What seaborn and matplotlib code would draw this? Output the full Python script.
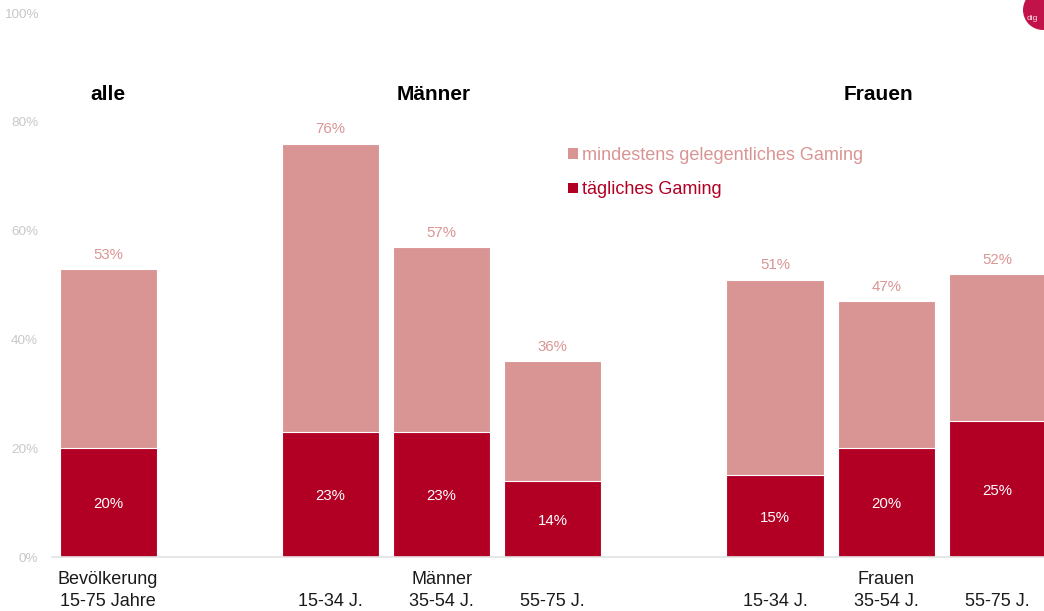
import matplotlib
matplotlib.use("Agg")
import matplotlib.pyplot as plt
import seaborn as sns
import pandas as pd
from matplotlib.patches import Circle, Patch

sns.set_theme(style="white")
plt.rcParams['font.family'] = ['Liberation Sans', 'DejaVu Sans']

# Data
tick_labels = ["Bevölkerung\n15-75 Jahre", "\n15-34 J.", "Männer\n35-54 J.", "\n55-75 J.",
               "\n15-34 J.", "Frauen\n35-54 J.", "\n55-75 J."]
slots = [0, 2, 3, 4, 6, 7, 8]
gelegentlich = [53, 76, 57, 36, 51, 47, 52]
taeglich = [20, 23, 23, 14, 15, 20, 25]
group_titles = ["alle", "Männer", "Frauen"]
group_pos = [0, 3, 7]
series_names = ["mindestens gelegentliches Gaming", "tägliches Gaming"]

PINK = "#d99594"
RED = "#b20024"
GRAY = "#c8c8c8"

df = pd.DataFrame({"slot": slots, "total": gelegentlich, "daily": taeglich})

fig = plt.figure(figsize=(10.44, 6.11), dpi=100)
ax = fig.add_axes([52/1044, 54/611, (1044-52)/1044, (557-13)/611])

w = 0.873
ax.bar(df["slot"], df["total"], width=w, color=PINK, edgecolor="white", linewidth=0.8)
ax.bar(df["slot"], df["daily"], width=w, color=RED, edgecolor="white", linewidth=0.8)

for s, t, d in zip(slots, gelegentlich, taeglich):
    ax.text(s, t + 1.3, f"{t}%", ha="center", va="bottom", color=PINK, fontsize=10.8)
    ax.text(s, d / 2 - 0.3, f"{d}%", ha="center", va="center", color="white", fontsize=10.8)

ax.set_xlim(-0.504, 8.42)
ax.set_ylim(0, 100)
ax.set_yticks([0, 20, 40, 60, 80, 100])
ax.set_yticklabels([f"{v}%" for v in [0, 20, 40, 60, 80, 100]], color=GRAY, fontsize=9.7)
ax.set_xticks(slots)
ax.set_xticklabels(tick_labels, fontsize=13, color="#1a1a1a", linespacing=1.42)
ax.tick_params(axis="both", length=0)
ax.tick_params(axis="x", pad=10)
ax.tick_params(axis="y", pad=10)
for sp in ["top", "right", "left"]:
    ax.spines[sp].set_visible(False)
ax.spines["bottom"].set_color("#e3e3e3")
ax.spines["bottom"].set_linewidth(1.2)
ax.grid(False)

for title, gp in zip(group_titles, group_pos):
    xoff = 0 if gp == 0 else -0.07
    ax.text(gp + xoff, 85, title, ha="center", va="center", fontsize=15, fontweight="bold", color="black")

handles = [Patch(facecolor=PINK, edgecolor="none"), Patch(facecolor=RED, edgecolor="none")]
leg = ax.legend(handles, series_names, loc="upper left", bbox_to_anchor=(509/992, (557-140)/544),
                frameon=False, fontsize=13, handlelength=0.55, handleheight=0.55,
                handletextpad=0.22, labelspacing=0.95, borderaxespad=0)
for txt, c in zip(leg.get_texts(), [PINK, RED]):
    txt.set_color(c)

# logo circle in the top-right corner (inch coordinates keep it round)
circ = Circle((10.43, 6.11 - 0.10), 0.20, transform=fig.dpi_scale_trans,
              facecolor="#c2124a", edgecolor="none", clip_on=False)
fig.patches.append(circ)
fig.text(1027/1044, 1 - 18/611, "dig", color="white", fontsize=6, ha="left", va="center", alpha=0.85)

fig.savefig("out.png", dpi=100)
